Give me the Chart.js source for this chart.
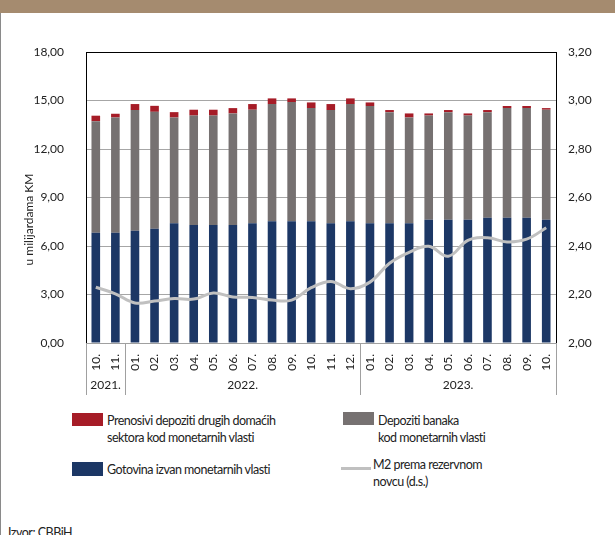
<!DOCTYPE html>
<html>
<head>
<meta charset="utf-8">
<script src="https://cdn.jsdelivr.net/npm/chart.js@4.4.1/dist/chart.umd.min.js"></script>
<style>
body{margin:0;background:#fff;font-family:Lato, sans-serif;}
#wrap{position:relative;width:615px;height:535px;overflow:hidden;background:#fff;}
#band{position:absolute;left:0;top:0;width:615px;height:13px;background:#a58b6f;}
#edge{position:absolute;left:0;top:13px;width:1px;height:522px;background:#8a8a8a;}
canvas{position:absolute;left:0;top:0;}
.sw{position:absolute;width:31px;height:13px;}
.lt{position:absolute;font-size:12.5px;line-height:17px;color:#222;white-space:nowrap;letter-spacing:-0.5px;}
</style>
</head>
<body>
<div id="wrap">
  <canvas id="chart" width="615" height="400"></canvas>
  <div id="band"></div>
  <div id="edge"></div>

  <div class="sw" style="left:72px;top:413px;background:#a61c27"></div>
  <div class="lt" style="left:107px;top:412px">Prenosivi depoziti drugih domaćih<br>sektora kod monetarnih vlasti</div>
  <div class="sw" style="left:343px;top:412px;background:#767171"></div>
  <div class="lt" style="left:378px;top:412px">Depoziti banaka<br>kod monetarnih vlasti</div>
  <div class="sw" style="left:72px;top:462px;height:14px;background:#1c3765"></div>
  <div class="lt" style="left:107px;top:461px">Gotovina izvan monetarnih vlasti</div>
  <div style="position:absolute;left:341px;top:467px;width:30px;height:3px;background:#c0c0c0"></div>
  <div class="lt" style="left:373px;top:456px">M2 prema rezervnom<br>novcu (d.s.)</div>
  <div class="lt" style="left:8px;top:524px">Izvor: CBBiH</div>
</div>
<script>
var months = ['10.','11.','01.','02.','03.','04.','05.','06.','07.','08.','09.','10.','11.','12.',
              '01.','02.','03.','04.','05.','06.','07.','08.','09.','10.'];
var years = ['2021.','2022.','2023.'];

// u milijardama KM
var gotovina = [6.82,6.82,6.94,7.07,7.40,7.30,7.30,7.30,7.40,7.53,7.53,7.53,
                7.40,7.53,7.40,7.40,7.40,7.63,7.63,7.63,7.75,7.75,7.75,7.63];
var depozitiBanaka = [6.90,7.13,7.47,7.23,6.55,6.77,6.77,6.90,7.03,7.25,7.37,7.00,
                      7.01,7.25,7.26,6.88,6.55,6.44,6.65,6.44,6.53,6.78,6.78,6.80];
var prenosiviDepoziti = [0.34,0.23,0.37,0.37,0.33,0.36,0.36,0.33,0.35,0.35,0.23,0.35,
                         0.37,0.35,0.22,0.13,0.25,0.13,0.13,0.13,0.13,0.13,0.13,0.10];
// desna skala
var m2Rezervni = [2.230,2.203,2.165,2.173,2.183,2.181,2.206,2.190,2.188,2.177,2.177,2.228,
                  2.254,2.224,2.251,2.329,2.374,2.399,2.358,2.423,2.434,2.417,2.428,2.475];

var fontFam = 'Lato, sans-serif';

function fmt(v) { return v.toFixed(2).replace('.', ','); }

var framePlugin = {
  id: 'frame',
  afterDraw: function(chart) {
    var ctx = chart.ctx, a = chart.chartArea, x = chart.scales.x;
    ctx.save();
    ctx.strokeStyle = '#000';
    ctx.lineWidth = 1;
    ctx.beginPath();
    ctx.moveTo(a.left, a.top + 0.5);
    ctx.lineTo(a.right, a.top + 0.5);
    ctx.stroke();

    // year separators and labels
    var cuts = [0];
    months.forEach(function(m, i) { if (m === '01.' && i > 0) cuts.push(i); });
    cuts.push(months.length);
    var px = cuts.map(function(c) {
      if (c === 0) return a.left;
      if (c === months.length) return a.right;
      return (x.getPixelForValue(c - 1) + x.getPixelForValue(c)) / 2;
    });
    ctx.strokeStyle = '#a0a0a0';
    px.forEach(function(p) {
      ctx.beginPath();
      ctx.moveTo(Math.round(p) + 0.5, a.bottom);
      ctx.lineTo(Math.round(p) + 0.5, a.bottom + 52);
      ctx.stroke();
    });
    ctx.fillStyle = '#222';
    ctx.font = '12px ' + fontFam;
    ctx.textAlign = 'center';
    ctx.textBaseline = 'middle';
    for (var i = 0; i < years.length; i++) {
      ctx.fillText(years[i], (px[i] + px[i + 1]) / 2, a.bottom + 42);
    }

    // y axis title
    ctx.translate(29, (a.top + a.bottom) / 2 + 22);
    ctx.rotate(-Math.PI / 2);
    ctx.fillText('u milijardama KM', 0, 0);
    ctx.restore();
  }
};

var c = document.getElementById('chart');
var chart = new Chart(c, {
  type: 'bar',
  data: {
    labels: months,
    datasets: [
      {
        type: 'line',
        label: 'M2 prema rezervnom novcu (d.s.)',
        data: m2Rezervni,
        yAxisID: 'y1',
        borderColor: '#c0c0c0',
        borderWidth: 3,
        pointRadius: 0,
        tension: 0.4,
        order: 0
      },
      {
        label: 'Gotovina izvan monetarnih vlasti',
        data: gotovina,
        backgroundColor: '#1c3765',
        stack: 's',
        order: 1
      },
      {
        label: 'Depoziti banaka kod monetarnih vlasti',
        data: depozitiBanaka,
        backgroundColor: '#767171',
        stack: 's',
        order: 1
      },
      {
        label: 'Prenosivi depoziti drugih domaćih sektora kod monetarnih vlasti',
        data: prenosiviDepoziti,
        backgroundColor: '#a61c27',
        stack: 's',
        order: 1
      }
    ]
  },
  options: {
    responsive: false,
    animation: false,
    layout: { padding: { top: 52, left: 0, right: 0, bottom: 0 } },
    datasets: { bar: { categoryPercentage: 1, barPercentage: 0.44 } },
    plugins: { legend: { display: false }, tooltip: { enabled: false } },
    scales: {
      x: {
        stacked: true,
        grid: { display: false },
        border: { display: true, color: '#a0a0a0' },
        ticks: {
          autoSkip: false, maxRotation: 90, minRotation: 90, padding: 3,
          color: '#222', font: { family: fontFam, size: 12 }
        },
        afterFit: function(s) { s.height = 57; }
      },
      y: {
        stacked: true,
        min: 0, max: 18,
        ticks: {
          stepSize: 3, padding: 22, color: '#222',
          font: { family: fontFam, size: 12 },
          callback: function(v) { return fmt(v); }
        },
        grid: { color: '#a6a6a6', drawTicks: false },
        border: { color: '#000' },
        afterFit: function(s) { s.width = 86; }
      },
      y1: {
        position: 'right',
        min: 2, max: 3.2,
        ticks: {
          stepSize: 0.2, padding: 12, color: '#222',
          font: { family: fontFam, size: 12 },
          callback: function(v) { return fmt(v); }
        },
        grid: { display: false, drawTicks: false },
        border: { color: '#000' },
        afterFit: function(s) { s.width = 59; }
      }
    }
  },
  plugins: [framePlugin]
});
</script>
</body>
</html>
